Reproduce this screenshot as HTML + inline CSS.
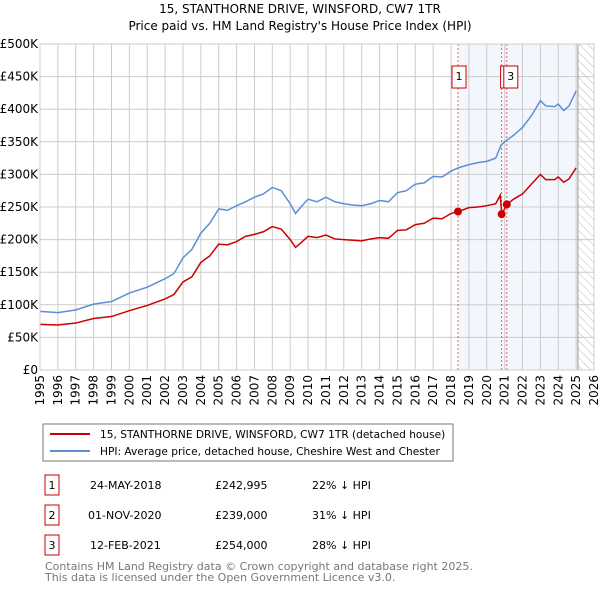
<!DOCTYPE html>
<html><head><meta charset="utf-8"><style>
body{margin:0;width:600px;height:590px;background:#fff;font-family:"DejaVu Sans","Liberation Sans",sans-serif;overflow:hidden}
svg text{font-family:"DejaVu Sans","Liberation Sans",sans-serif}
</style></head><body>
<svg id="c" width="600" height="590">
<defs><pattern id="hatch" width="6" height="6" patternUnits="userSpaceOnUse" patternTransform="rotate(-45)"><line x1="0" y1="0" x2="0" y2="6" stroke="#bbb" stroke-width="1"/></pattern></defs>
<text x="300" y="13" text-anchor="middle" font-size="12">15, STANTHORNE DRIVE, WINSFORD, CW7 1TR</text>
<text x="300" y="30" text-anchor="middle" font-size="12">Price paid vs. HM Land Registry's House Price Index (HPI)</text>
<g id="plot"></g>
<rect x="43" y="424" width="410" height="37" fill="#fff" stroke="#777"/>
<line x1="50" y1="434" x2="90" y2="434" stroke="#cc0000" stroke-width="2"/>
<text x="100" y="438" font-size="10.6">15, STANTHORNE DRIVE, WINSFORD, CW7 1TR (detached house)</text>
<line x1="50" y1="451" x2="90" y2="451" stroke="#5b8fd4" stroke-width="2"/>
<text x="100" y="455" font-size="10.6">HPI: Average price, detached house, Cheshire West and Chester</text>
<g font-size="11">
<rect x="45" y="475" width="14" height="20" fill="#fff" stroke="#c00"/><text x="52" y="489" text-anchor="middle">1</text>
<text x="90" y="489">24-MAY-2018</text><text x="215" y="489">£242,995</text><text x="312" y="489">22% ↓ HPI</text>
<rect x="45" y="505" width="14" height="20" fill="#fff" stroke="#c00"/><text x="52" y="519" text-anchor="middle">2</text>
<text x="88" y="519">01-NOV-2020</text><text x="215" y="519">£239,000</text><text x="312" y="519">31% ↓ HPI</text>
<rect x="45" y="535" width="14" height="20" fill="#fff" stroke="#c00"/><text x="52" y="549" text-anchor="middle">3</text>
<text x="90" y="549">12-FEB-2021</text><text x="215" y="549">£254,000</text><text x="312" y="549">28% ↓ HPI</text>
</g>
<text x="45" y="570" font-size="11" fill="#777">Contains HM Land Registry data © Crown copyright and database right 2025.</text>
<text x="45" y="581" font-size="11" fill="#777">This data is licensed under the Open Government Licence v3.0.</text>
</svg>
<script>
const hpiYears=[1995,1996,1997,1998,1999,2000,2001,2002,2002.5,2003,2003.5,2004,2004.5,2005,2005.5,2006,2006.5,2007,2007.5,2008,2008.5,2009,2009.3,2009.6,2010,2010.5,2011,2011.5,2012,2012.5,2013,2013.5,2014,2014.5,2015,2015.5,2016,2016.5,2017,2017.5,2018,2018.4,2019,2019.5,2020,2020.5,2020.8,2021,2021.5,2022,2022.5,2023,2023.3,2023.8,2024,2024.3,2024.6,2025];
const hpiValues=[90,88,92,101,105,118,127,140,148,172,185,210,225,247,245,252,258,265,270,280,275,255,240,250,262,258,265,258,255,253,252,255,260,258,272,275,285,287,297,296,305,310,315,318,320,325,345,350,360,372,390,413,405,404,408,398,405,428];
const priceYears=[1995,1996,1997,1998,1999,2000,2001,2002,2002.5,2003,2003.5,2004,2004.5,2005,2005.5,2006,2006.5,2007,2007.5,2008,2008.5,2009,2009.3,2009.6,2010,2010.5,2011,2011.5,2012,2012.5,2013,2013.5,2014,2014.5,2015,2015.5,2016,2016.5,2017,2017.5,2018,2018.4,2019,2019.5,2020,2020.5,2020.75,2020.84,2021.12,2021.5,2022,2022.5,2023,2023.3,2023.8,2024,2024.3,2024.6,2025];
const priceValues=[70,69,72,79,82,91,99,109,116,135,143,165,175,193,192,197,205,208,212,220,216,200,188,195,205,203,207,201,200,199,198,201,203,202,214,215,223,225,233,232,240,243,249,250,252,255,268,239,254,262,270,285,300,292,292,296,288,293,310];
const saleYears=[2018.39,2020.83,2021.12];
const saleValues=[243,239,254];
const saleLabels=["1","2","3"];
const yTicks=[0,50,100,150,200,250,300,350,400,450,500];
const yTickLabels=["£0","£50K","£100K","£150K","£200K","£250K","£300K","£350K","£400K","£450K","£500K"];
const xTicks=[1995,1996,1997,1998,1999,2000,2001,2002,2003,2004,2005,2006,2007,2008,2009,2010,2011,2012,2013,2014,2015,2016,2017,2018,2019,2020,2021,2022,2023,2024,2025,2026];
const L=40,R=594,T=44,B=370,X0=1995,X1=2026;
const x=v=>L+(v-X0)/(X1-X0)*(R-L);
const y=v=>B-v/500*(B-T);
const ns="http://www.w3.org/2000/svg",g=document.getElementById('plot');
function mk(t,a){const e=document.createElementNS(ns,t);for(const k in a)e.setAttribute(k,a[k]);g.appendChild(e);return e;}
let e;
e=mk('rect',{x:x(2018.39),y:T,width:x(2025.1)-x(2018.39),height:B-T,fill:'#eef3fc',opacity:0.7});


e=mk('rect',{x:x(2025.1),y:T,width:R-x(2025.1),height:B-T,fill:'url(#hatch)'});


yTicks.forEach((v,i)=>{
 e=mk('line',{x1:L,x2:R,y1:y(v),y2:y(v),stroke:'#ccc'});
 
 
 e=mk('text',{x:L-2,y:y(v)+4,'text-anchor':'end','font-size':12});e.textContent=yTickLabels[i];
 
 
});
xTicks.forEach(v=>{
 e=mk('line',{x1:x(v),x2:x(v),y1:T,y2:B,stroke:'#ccc'});
 
 
 e=mk('text',{x:0,y:0,'text-anchor':'end','font-size':12,transform:`translate(${x(v)+4},${B+5}) rotate(-90)`});e.textContent=v;
 
 
});
e=mk('line',{x1:x(2025.1),x2:x(2025.1),y1:T,y2:B,stroke:'#999'});


saleYears.forEach((v,i)=>{
 e=mk('line',{x1:x(v),x2:x(v),y1:T,y2:B,stroke:'#e06060','stroke-dasharray':'2,2'});
 
 
});
const boxOff=[1,6,4];
[0,1,2].forEach(i=>{
 const cx=x(saleYears[i])+boxOff[i];
 e=mk('rect',{x:cx-7,y:66,width:14,height:22,fill:'#fff',stroke:'#c00'});
 
 
 e=mk('text',{x:cx,y:80,'text-anchor':'middle','font-size':11});e.textContent=saleLabels[i];
 
 
});
function line(xs,vs,c,n){e=mk('polyline',{points:xs.map((t,i)=>x(t)+','+y(vs[i])).join(' '),fill:'none',stroke:c,'stroke-width':1.5});
 
 }
line(hpiYears,hpiValues,'#5b8fd4','hpi-line');
line(priceYears,priceValues,'#cc0000','price-line');
saleYears.forEach((v,i)=>{
 e=mk('circle',{cx:x(v),cy:y(saleValues[i]),r:4,fill:'#cc0000'});
 
 
});
e=mk('rect',{x:L,y:T,width:R-L,height:B-T,fill:'none',stroke:'#ccc'});


</script>
</body></html>
